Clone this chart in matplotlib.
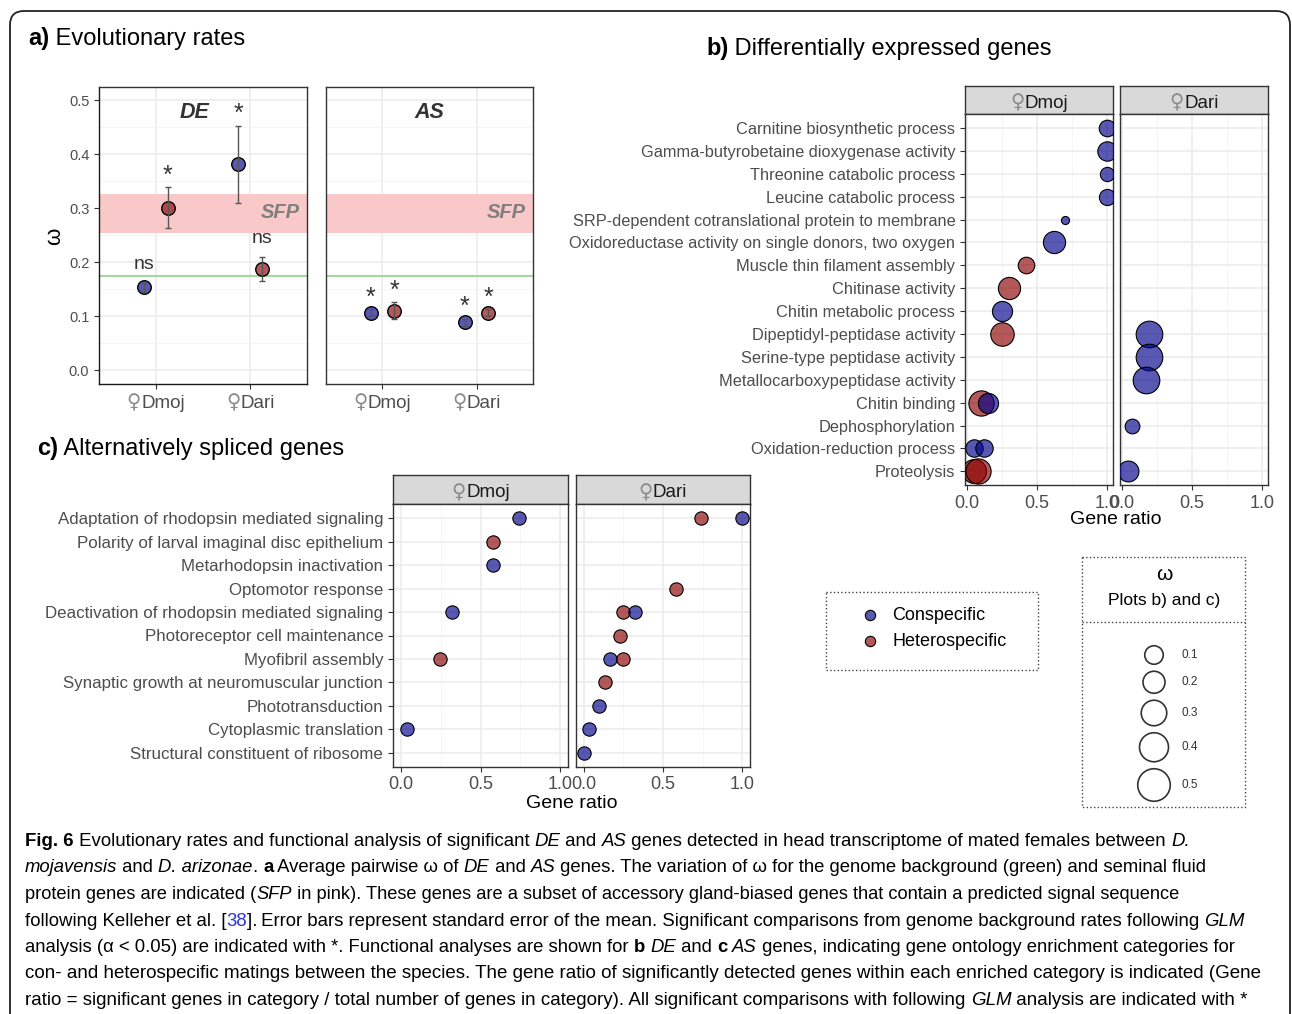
import matplotlib
matplotlib.use('Agg')
import matplotlib.pyplot as plt
from matplotlib import font_manager
from matplotlib.colors import to_rgba
from matplotlib.font_manager import FontProperties
from matplotlib.patches import FancyBboxPatch, Rectangle
from matplotlib.ticker import MultipleLocator
import numpy as np

plt.rcParams['font.family'] = ['Liberation Sans', 'DejaVu Sans']

W, H = 1292, 1014
MAIN_FONT = ['Liberation Sans', 'DejaVu Sans']
_installed = {f.name for f in font_manager.fontManager.ttflist}
CAP_FONT = (['Liberation Sans Narrow'] if 'Liberation Sans Narrow' in _installed else []) + MAIN_FONT

# ---------------- data ----------------
# a) evolutionary rates (omega)
a_groups = ['Dmoj', 'Dari']
sfp_band = (0.255, 0.326)
genome_bg = 0.1755

de_con = [0.154, 0.382]
de_con_se = [0.008, 0.071]
de_het = [0.301, 0.188]
de_het_se = [0.038, 0.023]
de_con_sig = ['ns', '*']
de_het_sig = ['*', 'ns']

as_con = [0.107, 0.089]
as_con_se = [0.006, 0.006]
as_het = [0.111, 0.107]
as_het_se = [0.015, 0.006]
as_con_sig = ['*', '*']
as_het_sig = ['*', '*']

# b) differentially expressed genes
b_terms = ['Carnitine biosynthetic process',
           'Gamma-butyrobetaine dioxygenase activity',
           'Threonine catabolic process',
           'Leucine catabolic process',
           'SRP-dependent cotranslational protein to membrane',
           'Oxidoreductase activity on single donors, two oxygen',
           'Muscle thin filament assembly',
           'Chitinase activity',
           'Chitin metabolic process',
           'Dipeptidyl-peptidase activity',
           'Serine-type peptidase activity',
           'Metallocarboxypeptidase activity',
           'Chitin binding',
           'Dephosphorylation',
           'Oxidation-reduction process',
           'Proteolysis']
b_panel = ['Dmoj', 'Dmoj', 'Dmoj', 'Dmoj', 'Dmoj', 'Dmoj', 'Dmoj', 'Dmoj',
           'Dmoj', 'Dmoj', 'Dari', 'Dari', 'Dari', 'Dmoj', 'Dmoj', 'Dari',
           'Dmoj', 'Dmoj', 'Dmoj', 'Dmoj', 'Dari']
b_term = ['Carnitine biosynthetic process',
          'Gamma-butyrobetaine dioxygenase activity',
          'Threonine catabolic process',
          'Leucine catabolic process',
          'SRP-dependent cotranslational protein to membrane',
          'Oxidoreductase activity on single donors, two oxygen',
          'Muscle thin filament assembly',
          'Chitinase activity',
          'Chitin metabolic process',
          'Dipeptidyl-peptidase activity',
          'Dipeptidyl-peptidase activity',
          'Serine-type peptidase activity',
          'Metallocarboxypeptidase activity',
          'Chitin binding',
          'Chitin binding',
          'Dephosphorylation',
          'Oxidation-reduction process',
          'Oxidation-reduction process',
          'Proteolysis',
          'Proteolysis',
          'Proteolysis']
b_type = ['con', 'con', 'con', 'con', 'con', 'con', 'het', 'het', 'con', 'het',
          'con', 'con', 'con', 'het', 'con', 'con', 'con', 'con', 'het', 'het', 'con']
b_ratio = [1.0, 1.0, 1.0, 1.0, 0.70, 0.62, 0.42, 0.30, 0.25, 0.25,
           0.19, 0.19, 0.17, 0.10, 0.15, 0.07, 0.05, 0.12, 0.05, 0.08, 0.04]
b_omega = [0.19, 0.26, 0.14, 0.18, 0.045, 0.34, 0.19, 0.34, 0.28, 0.38,
           0.49, 0.49, 0.49, 0.44, 0.28, 0.15, 0.21, 0.21, 0.40, 0.44, 0.30]

# c) alternatively spliced genes
c_terms = ['Adaptation of rhodopsin mediated signaling',
           'Polarity of larval imaginal disc epithelium',
           'Metarhodopsin inactivation',
           'Optomotor response',
           'Deactivation of rhodopsin mediated signaling',
           'Photoreceptor cell maintenance',
           'Myofibril assembly',
           'Synaptic growth at neuromuscular junction',
           'Phototransduction',
           'Cytoplasmic translation',
           'Structural constituent of ribosome']
c_panel = ['Dmoj', 'Dmoj', 'Dmoj', 'Dmoj', 'Dmoj', 'Dmoj',
           'Dari', 'Dari', 'Dari', 'Dari', 'Dari', 'Dari', 'Dari',
           'Dari', 'Dari', 'Dari', 'Dari', 'Dari']
c_term = ['Adaptation of rhodopsin mediated signaling',
          'Polarity of larval imaginal disc epithelium',
          'Metarhodopsin inactivation',
          'Deactivation of rhodopsin mediated signaling',
          'Myofibril assembly',
          'Cytoplasmic translation',
          'Adaptation of rhodopsin mediated signaling',
          'Adaptation of rhodopsin mediated signaling',
          'Optomotor response',
          'Deactivation of rhodopsin mediated signaling',
          'Deactivation of rhodopsin mediated signaling',
          'Photoreceptor cell maintenance',
          'Myofibril assembly',
          'Myofibril assembly',
          'Synaptic growth at neuromuscular junction',
          'Phototransduction',
          'Cytoplasmic translation',
          'Structural constituent of ribosome']
c_type = ['con', 'het', 'con', 'con', 'het', 'con',
          'het', 'con', 'het', 'het', 'con', 'het', 'con', 'het', 'het',
          'con', 'con', 'con']
c_ratio = [0.74, 0.58, 0.58, 0.32, 0.245, 0.037,
           0.74, 1.0, 0.58, 0.25, 0.325, 0.226, 0.163, 0.25, 0.134,
           0.098, 0.035, 0.002]

legend_omega = [0.1, 0.2, 0.3, 0.4, 0.5]
legend_types = ['Conspecific', 'Heterospecific']

caption = [
    [('Fig. 6', 'b'), (' Evolutionary rates and functional analysis of significant ', 'n'),
     ('DE', 'i'), (' and ', 'n'), ('AS', 'i'),
     (' genes detected in head transcriptome of mated females between ', 'n'), ('D.', 'i')],
    [('mojavensis', 'i'), (' and ', 'n'), ('D. arizonae', 'i'), ('. ', 'n'), ('a', 'b'),
     (' Average pairwise \u03c9 of ', 'n'), ('DE', 'i'), (' and ', 'n'), ('AS', 'i'),
     (' genes. The variation of \u03c9 for the genome background (green) and seminal fluid', 'n')],
    [('protein genes are indicated (', 'n'), ('SFP', 'i'),
     (' in pink). These genes are a subset of accessory gland-biased genes that contain a predicted signal sequence', 'n')],
    [('following Kelleher et al. [', 'n'), ('38', 'l'),
     ('].\u2009Error bars represent standard error of the mean. Significant comparisons from genome background rates following ', 'n'),
     ('GLM', 'i')],
    [('analysis (\u03b1 < 0.05) are indicated with *. Functional analyses are shown for ', 'n'), ('b', 'b'),
     (' ', 'n'), ('DE', 'i'), (' and ', 'n'), ('c', 'b'), (' ', 'n'), ('AS', 'i'),
     (' genes, indicating gene ontology enrichment categories for', 'n')],
    [('con- and heterospecific matings between the species. The gene ratio of significantly detected genes within each enriched category is indicated (Gene', 'n')],
    [('ratio = significant genes in category / total number of genes in category). All significant comparisons with following ', 'n'),
     ('GLM', 'i'), (' analysis are indicated with *', 'n')],
]
caption_right = [1203, 1215, 1193, 1258, 1248, 1273, 1262]

# ---------------- styling ----------------
COLORS = {'con': '#00008B', 'het': '#8B0000'}
ALPHA = 0.65
GRID = '#EBEBEB'
BORDER = '#333333'
TICKTXT = '#4D4D4D'

fig = plt.figure(figsize=(W / 100, H / 100), dpi=100)
fig.patch.set_facecolor('white')

bg = fig.add_axes([0, 0, 1, 1], zorder=-5)
bg.set_xlim(0, W)
bg.set_ylim(H, 0)
bg.axis('off')
rend = fig.canvas.get_renderer()


def add_ax(l, t, r, b):
    return fig.add_axes([l / W, 1 - b / H, (r - l) / W, (b - t) / H])


def gg_style(ax):
    for s in ax.spines.values():
        s.set_color(BORDER)
        s.set_linewidth(1.0)
    ax.tick_params(which='major', colors=BORDER, labelcolor=TICKTXT, length=3.5, width=0.8)
    ax.tick_params(which='minor', length=0)
    ax.grid(which='major', color=GRID, lw=1.1)
    ax.grid(which='minor', color='#F4F4F4', lw=0.6)
    ax.set_axisbelow(True)


STYLES = {'n': {}, 'b': {'weight': 'bold'}, 'i': {'style': 'italic'},
          'l': {'color': '#2A35D8'}}


def text_width(txt, family, size, weight='normal', style='normal'):
    fp = FontProperties(family=family, size=size, weight=weight, style=style)
    w1 = rend.get_text_width_height_descent('|' + txt + '|', fp, ismath=False)[0]
    w0 = rend.get_text_width_height_descent('||', fp, ismath=False)[0]
    return w1 - w0


def rich_line(x, y, parts, size, family, right=None):
    def width(txt, sz, sty):
        st = STYLES[sty]
        return text_width(txt, family, sz, st.get('weight', 'normal'), st.get('style', 'normal'))

    if right is not None:
        tot = sum(width(t, size, s) for t, s in parts)
        size = size * (right - x) / tot
    cx = x
    for t, s in parts:
        st = STYLES[s]
        bg.text(cx, y, t, fontsize=size, family=family,
                fontweight=st.get('weight', 'normal'), fontstyle=st.get('style', 'normal'),
                color=st.get('color', 'black'), va='baseline', ha='left')
        cx += width(t, size, s)


def female_label(target, xc, yc, name, size, color):
    # female sign in DejaVu (larger, light) followed by the species name
    w_sym = text_width('\u2640', ['DejaVu Sans'], size * 1.05)
    w_name = text_width(name, MAIN_FONT, size)
    x0 = xc - (w_sym + w_name) / 2
    target.text(x0, yc, '\u2640', family=['DejaVu Sans'], fontsize=size * 1.05,
                color='#8A8A8A', ha='left', va='center_baseline', transform=bg.transData,
                clip_on=False)
    target.text(x0 + w_sym, yc, name, family=MAIN_FONT, fontsize=size, color=color,
                ha='left', va='center_baseline', transform=bg.transData, clip_on=False)


def strip(l, t, r, b, label):
    sax = add_ax(l, t, r, b)
    sax.set_facecolor('#D9D9D9')
    sax.set_xticks([])
    sax.set_yticks([])
    for s in sax.spines.values():
        s.set_color(BORDER)
        s.set_linewidth(1.0)
    female_label(sax, (l + r) / 2, (t + b) / 2 + 1, label, 13.5, '#1A1A1A')


def axes_px_x(xv, limits, l, r):
    return l + (xv - limits[0]) / (limits[1] - limits[0]) * (r - l)


# outer frame
bg.add_patch(FancyBboxPatch((10, 11), 1280, 1100, boxstyle='round,pad=0,rounding_size=14',
                            fc='none', ec='#222222', lw=1.3, clip_on=False))

# ---------------- a) evolutionary rates ----------------
rich_line(28, 45, [('a)', 'b'), (' Evolutionary rates', 'n')], 17, MAIN_FONT)

A_XLIM = (0.4, 2.6)
A_YLIM = (-0.025, 0.525)
panels_a = [
    ((99, 87, 307, 384), de_con, de_con_se, de_het, de_het_se, de_con_sig, de_het_sig, 'DE', 0.46),
    ((326, 87, 533, 384), as_con, as_con_se, as_het, as_het_se, as_con_sig, as_het_sig, 'AS', 0.50),
]
a_axes = []
for box, con, con_se, het, het_se, con_sig, het_sig, name, name_x in panels_a:
    ax = add_ax(*box)
    a_axes.append(ax)
    gg_style(ax)
    x = np.arange(1, len(a_groups) + 1)
    ax.axhspan(sfp_band[0], sfp_band[1], color='#F9C8C8', lw=0, zorder=1)
    ax.axhline(genome_bg, color='#A9D6A3', lw=1.6, zorder=1)
    for off, vals, se, sig, kind in [(-0.125, con, con_se, con_sig, 'con'),
                                     (0.125, het, het_se, het_sig, 'het')]:
        ax.scatter(x + off, vals, s=95, facecolors=to_rgba(COLORS[kind], ALPHA),
                   edgecolors='black', linewidths=1.0, zorder=3)
        ax.errorbar(x + off, vals, yerr=se, fmt='none', ecolor='#555555', elinewidth=1.0,
                    capsize=2.5, capthick=1.0, zorder=4)
        for xi, v, e, lab in zip(x + off, vals, se, sig):
            if lab == '*':
                ax.text(xi, v + e + 0.022, lab, ha='center', va='center',
                        fontsize=18, color='#333333')
            else:
                ax.text(xi, v + e + 0.034, lab, ha='center', va='center',
                        fontsize=14, color='#333333')
    ax.text(name_x, (0.477 - A_YLIM[0]) / (A_YLIM[1] - A_YLIM[0]), name, ha='center',
            va='center', fontsize=15.5, fontweight='bold', fontstyle='italic',
            color='#333333', transform=ax.transAxes)
    ax.text(0.87, (0.292 - A_YLIM[0]) / (A_YLIM[1] - A_YLIM[0]), 'SFP', ha='center',
            va='center', fontsize=14.5, fontweight='bold', fontstyle='italic',
            color='#7F7F7F', transform=ax.transAxes)
    ax.set_xlim(*A_XLIM)
    ax.set_ylim(*A_YLIM)
    ax.set_xticks(x)
    ax.set_xticklabels([])
    ax.set_yticks(np.arange(0, 0.51, 0.1))
    ax.yaxis.set_minor_locator(MultipleLocator(0.05))
    for xi, g in zip(x, a_groups):
        female_label(bg, axes_px_x(xi, A_XLIM, box[0], box[2]), 401, g, 13.5, TICKTXT)

a_axes[0].set_yticklabels([f'{v:.1f}' for v in np.arange(0, 0.51, 0.1)], fontsize=10.5)
a_axes[0].spines['left'].set_color('#1A1A1A')
a_axes[0].spines['bottom'].set_color('#1A1A1A')
a_axes[1].tick_params(axis='y', left=False, labelleft=False)
fig.text(55 / W, 1 - 236 / H, '\u03c9', rotation=90, ha='center', va='center', fontsize=16)

# ---------------- b) differentially expressed genes ----------------
rich_line(706, 55, [('b)', 'b'), (' Differentially expressed genes', 'n')], 17, MAIN_FONT)

b_axes = {}
for name, l, r in [('Dmoj', 965, 1112.7), ('Dari', 1120.3, 1267.7)]:
    strip(l, 86, r, 114.3, name)
    ax = add_ax(l, 114.3, r, 485)
    gg_style(ax)
    ax.set_xlim(-0.012, 1.04)
    ax.set_ylim(-0.6, len(b_terms) - 0.4)
    ax.set_xticks([0, 0.5, 1.0])
    ax.set_xticklabels(['0.0', '0.5', '1.0'], fontsize=13)
    ax.xaxis.set_minor_locator(MultipleLocator(0.25))
    ax.set_yticks(range(len(b_terms)))
    b_axes[name] = ax
b_axes['Dmoj'].set_yticklabels(b_terms[::-1], fontsize=11.8)
b_axes['Dari'].tick_params(axis='y', left=False, labelleft=False)

for p, term, kind, ratio, om in zip(b_panel, b_term, b_type, b_ratio, b_omega):
    yy = len(b_terms) - 1 - b_terms.index(term)
    b_axes[p].scatter(ratio, yy, s=750 * om, facecolors=to_rgba(COLORS[kind], ALPHA),
                      edgecolors='black', linewidths=0.8, zorder=3)
fig.text(1116 / W, 1 - 520 / H, 'Gene ratio', ha='center', va='center', fontsize=14)

# ---------------- c) alternatively spliced genes ----------------
rich_line(37, 455, [('c)', 'b'), (' Alternatively spliced genes', 'n')], 17, MAIN_FONT)

c_axes = {}
for name, l, r in [('Dmoj', 393, 568.3), ('Dari', 576, 750)]:
    strip(l, 475, r, 504.3, name)
    ax = add_ax(l, 504.3, r, 766.7)
    gg_style(ax)
    ax.set_xlim(-0.05, 1.05)
    ax.set_ylim(-0.6, len(c_terms) - 0.4)
    ax.set_xticks([0, 0.5, 1.0])
    ax.set_xticklabels(['0.0', '0.5', '1.0'], fontsize=13)
    ax.xaxis.set_minor_locator(MultipleLocator(0.25))
    ax.set_yticks(range(len(c_terms)))
    c_axes[name] = ax
c_axes['Dmoj'].set_yticklabels(c_terms[::-1], fontsize=12.2)
c_axes['Dari'].tick_params(axis='y', left=False, labelleft=False)

for p, term, kind, ratio in zip(c_panel, c_term, c_type, c_ratio):
    yy = len(c_terms) - 1 - c_terms.index(term)
    c_axes[p].scatter(ratio, yy, s=92, facecolors=to_rgba(COLORS[kind], ALPHA),
                      edgecolors='black', linewidths=0.8, zorder=3)
fig.text(572 / W, 1 - 803 / H, 'Gene ratio', ha='center', va='center', fontsize=14)

# ---------------- legends ----------------
bg.add_patch(Rectangle((826, 592), 212, 78, fc='none', ec='#444444', lw=1.0, ls=':'))
for i, (lab, kind) in enumerate(zip(legend_types, ['con', 'het'])):
    yy = 615 + 26 * i
    bg.scatter(870, yy, s=55, facecolors=to_rgba(COLORS[kind], ALPHA), edgecolors='black',
               linewidths=0.8)
    bg.text(892, yy, lab, ha='left', va='center', fontsize=13)

bg.add_patch(Rectangle((1082, 557), 163, 250, fc='none', ec='#444444', lw=1.0, ls=':'))
bg.plot([1082, 1245], [622, 622], color='#444444', lw=1.0, ls=':')
bg.text(1164, 574, '\u03c9', ha='center', va='center', fontsize=15)
bg.text(1164, 601, 'Plots b) and c)', ha='center', va='center', fontsize=12.5)
yy = 655
prev = None
for om in legend_omega:
    d = 15 + 35 * om
    if prev is not None:
        yy += prev / 2 + d / 2 + 7
    bg.scatter(1154, yy, s=(d * 0.72) ** 2, facecolors='none', edgecolors='#333333',
               linewidths=1.2)
    bg.text(1182, yy, f'{om:.1f}', ha='left', va='center', fontsize=8.5, color='#333333')
    prev = d

# ---------------- caption ----------------
for i, (parts, right) in enumerate(zip(caption, caption_right)):
    rich_line(25, 846 + 26.5 * i, parts, 14, CAP_FONT, right=right)

fig.savefig('out.png', dpi=100, facecolor='white')
